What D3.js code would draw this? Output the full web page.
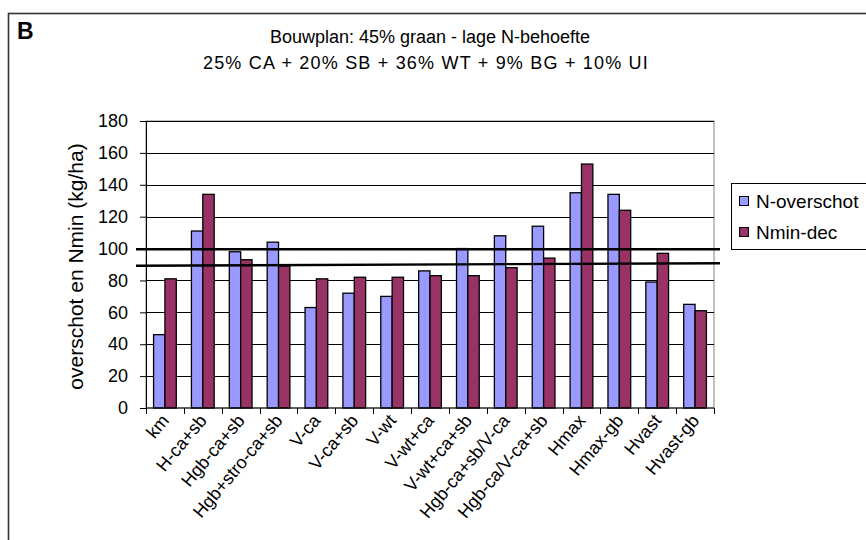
<!DOCTYPE html>
<html>
<head>
<meta charset="utf-8">
<script src="https://cdn.jsdelivr.net/npm/d3@7"></script>
<style>
  html, body { margin: 0; padding: 0; background: #fff; }
  svg { display: block; font-family: "Liberation Sans", Arial, sans-serif; }
</style>
</head>
<body>
<svg id="chart" width="866" height="540"></svg>
<script>
// Treatments (x categories)
const categories = ["km", "H-ca+sb", "Hgb-ca+sb", "Hgb+stro-ca+sb", "V-ca", "V-ca+sb", "V-wt",
  "V-wt+ca", "V-wt+ca+sb", "Hgb-ca+sb/V-ca", "Hgb-ca/V-ca+sb", "Hmax", "Hmax-gb", "Hvast", "Hvast-gb"];

// N surplus per treatment (kg/ha)
const nOverschot = [46, 111, 98, 104, 63, 72, 70, 86, 100, 108, 114, 135, 134, 79, 65];
// Nmin in December (kg/ha)
const nminDec = [81, 134, 93, 89, 81, 82, 82, 83, 83, 88, 94, 153, 124, 97, 61];

const seriesNames = ["N-overschot", "Nmin-dec"];
const seriesColors = ["#9999FF", "#993366"];

// Y-axis ticks
const yTicks = [0, 20, 40, 60, 80, 100, 120, 140, 160, 180];

// Norm lines: value at the left end and at the right end
const normStart = [99.6, 89.2];
const normEnd = [99.6, 90.8];

const titleLines = ["Bouwplan: 45% graan - lage N-behoefte", "25% CA + 20% SB + 36% WT + 9% BG + 10% UI"];

const W = 866, H = 540;
const margin = { top: 121, right: 152, bottom: 132, left: 146 };
const iw = W - margin.left - margin.right;
const ih = H - margin.top - margin.bottom;

const svg = d3.select("#chart");

// Outer chart frame (continues past the right and bottom edges)
svg.append("rect")
  .attr("x", 8.5).attr("y", 13.5)
  .attr("width", W + 20).attr("height", H + 20)
  .attr("fill", "none").attr("stroke", "#333").attr("stroke-width", 1.6);

svg.append("text")
  .attr("x", 17).attr("y", 39)
  .attr("font-size", 23).attr("font-weight", "bold")
  .text("B");

svg.selectAll("text.title")
  .data(titleLines)
  .enter().append("text")
  .attr("class", "title")
  .attr("x", (d, i) => i === 0 ? 430 : 426)
  .attr("y", (d, i) => 43 + i * 26)
  .attr("text-anchor", "middle")
  .attr("font-size", 18)
  .attr("letter-spacing", (d, i) => i === 0 ? 0 : 1.2)
  .text(d => d);

const g = svg.append("g").attr("transform", `translate(${margin.left},${margin.top})`);

const x0 = d3.scaleBand().domain(categories).range([0, iw]).paddingInner(0.4).paddingOuter(0.2);
const x1 = d3.scaleBand().domain(seriesNames).range([0, x0.bandwidth()]);
const y = d3.scaleLinear().domain([0, 180]).range([ih, 0]);

// Category boundaries used for x ticks
const xEdge = d3.scaleLinear().domain([0, categories.length]).range([0, iw]);

// Plot area border
g.append("rect")
  .attr("x", 0).attr("y", 0).attr("width", iw).attr("height", ih)
  .attr("fill", "#fff").attr("stroke", "#808080").attr("stroke-width", 1);

// Horizontal gridlines
g.selectAll("line.grid")
  .data(yTicks.filter(v => v > 0))
  .enter().append("line")
  .attr("class", "grid")
  .attr("x1", 0).attr("x2", iw)
  .attr("y1", d => Math.round(y(d)) + 0.5).attr("y2", d => Math.round(y(d)) + 0.5)
  .attr("stroke", "#000").attr("stroke-width", 1);

// Bars
const rows = categories.map((c, i) => ({ cat: c, vals: [nOverschot[i], nminDec[i]] }));
const groups = g.selectAll("g.cat")
  .data(rows)
  .enter().append("g")
  .attr("class", "cat")
  .attr("transform", d => `translate(${x0(d.cat)},0)`);

groups.selectAll("rect")
  .data(d => d.vals.map((v, j) => ({ key: seriesNames[j], v, j })))
  .enter().append("rect")
  .attr("x", d => x1(d.key))
  .attr("y", d => y(d.v))
  .attr("width", x1.bandwidth())
  .attr("height", d => ih - y(d.v))
  .attr("fill", d => seriesColors[d.j])
  .attr("stroke", "#000").attr("stroke-width", 1.3);

// Y axis
const yAxis = g.append("g")
  .call(d3.axisLeft(y).tickValues(yTicks).tickSize(6).tickSizeOuter(0).tickPadding(12));
yAxis.select(".domain").attr("stroke", "#000");
yAxis.selectAll(".tick line").attr("stroke", "#000");
yAxis.selectAll(".tick text")
  .attr("font-family", "Liberation Sans, Arial, sans-serif")
  .attr("font-size", 18).attr("fill", "#000");

// X axis line with ticks at category boundaries
const xAxis = g.append("g").attr("transform", `translate(0,${ih})`);
xAxis.append("line").attr("x1", 0).attr("x2", iw).attr("y1", 0).attr("y2", 0).attr("stroke", "#000");
xAxis.selectAll("line.tk")
  .data(d3.range(categories.length + 1))
  .enter().append("line")
  .attr("class", "tk")
  .attr("x1", d => Math.round(xEdge(d)) + 0.5).attr("x2", d => Math.round(xEdge(d)) + 0.5)
  .attr("y1", 0).attr("y2", 6)
  .attr("stroke", "#000");

// Slanted category labels
xAxis.selectAll("text.xl")
  .data(categories)
  .enter().append("text")
  .attr("class", "xl")
  .attr("transform", d => `translate(${x0(d) + x0.bandwidth() / 2 + 5},${13}) rotate(-50)`)
  .attr("text-anchor", "end")
  .attr("font-size", 18)
  .text(d => d);

// Y axis title
svg.append("text")
  .attr("transform", `translate(83,${margin.top + ih / 2 + 2}) rotate(-90)`)
  .attr("text-anchor", "middle")
  .attr("font-size", 21)
  .text("overschot en Nmin (kg/ha)");

// Norm lines across the plot
svg.selectAll("line.norm")
  .data(normStart.map((v, i) => ({ a: v, b: normEnd[i] })))
  .enter().append("line")
  .attr("class", "norm")
  .attr("x1", margin.left - 10).attr("x2", margin.left + iw + 6)
  .attr("y1", d => margin.top + y(d.a)).attr("y2", d => margin.top + y(d.b))
  .attr("stroke", "#000").attr("stroke-width", 2.4);

// Legend
const leg = svg.append("g").attr("transform", "translate(731,183)");
leg.append("rect")
  .attr("x", 0.5).attr("y", 0.5).attr("width", 140).attr("height", 66)
  .attr("fill", "#fff").attr("stroke", "#000").attr("stroke-width", 1);
const items = leg.selectAll("g.item")
  .data(seriesNames)
  .enter().append("g")
  .attr("class", "item")
  .attr("transform", (d, i) => `translate(0,${18 + i * 31})`);
items.append("rect")
  .attr("x", 8.5).attr("y", -4.5).attr("width", 9).attr("height", 9)
  .attr("fill", (d, i) => seriesColors[i]).attr("stroke", "#000").attr("stroke-width", 1);
items.append("text")
  .attr("x", 25).attr("y", 7)
  .attr("font-size", 19)
  .text(d => d);
</script>
</body>
</html>
